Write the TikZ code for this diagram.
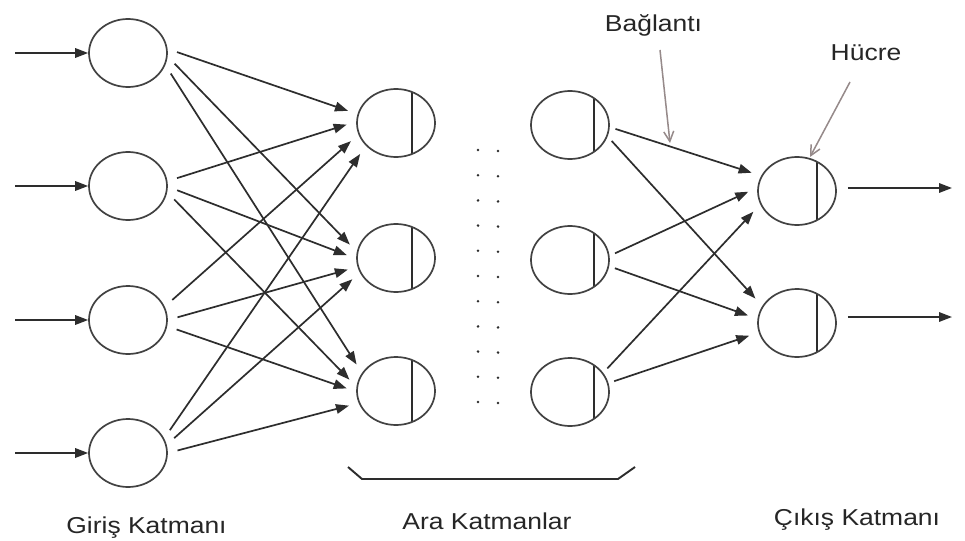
\documentclass[tikz,border=0pt]{standalone}
\usepackage{graphicx}
\usepackage{fontspec}
\setmainfont{Liberation Sans}
\usetikzlibrary{shapes.geometric,arrows.meta}
\definecolor{ink}{RGB}{45,45,45}
\definecolor{pointer}{RGB}{150,138,138}
\newcommand{\lbltext}[1]{\scalebox{1.15}[1]{\fontsize{23pt}{27pt}\selectfont #1}}
\begin{document}
\begin{tikzpicture}[x=1pt,y=-1pt,
  neuron/.style={ellipse, draw=ink!90, line width=1.7pt, minimum width=78pt, minimum height=68pt, inner sep=0pt},
  cell/.style={neuron, path picture={\draw[line width=1.7pt, ink] ([xshift=#1]path picture bounding box.south) -- ([xshift=#1]path picture bounding box.north);}},
  conn/.style={draw=ink, line width=1.7pt, -{Triangle[length=13pt,width=9.5pt]}, shorten >=10pt, shorten <=10pt},
  iarrow/.style={draw=ink, line width=1.7pt, -{Triangle[length=13pt,width=9.5pt]}},
  ptr/.style={draw=pointer, line width=1.5pt, -{Straight Barb[length=10pt,width=10pt]}},
  lbl/.style={inner sep=0pt, anchor=base, text=black!85}
]
\fill[white] (0,0) rectangle (965,540);
\useasboundingbox (0,0) rectangle (965,540);

% input layer
\node[neuron] (i1) at (128,53) {};
\node[neuron] (i2) at (128,186) {};
\node[neuron] (i3) at (128,320) {};
\node[neuron] (i4) at (128,453) {};
% first hidden layer
\node[cell=16pt] (h1) at (396,123) {};
\node[cell=16pt] (h2) at (396,258) {};
\node[cell=16pt] (h3) at (396,391) {};
% last hidden layer
\node[cell=24pt] (g1) at (570,125) {};
\node[cell=24pt] (g2) at (570,260) {};
\node[cell=24pt] (g3) at (570,392) {};
% output layer
\node[cell=20pt] (o1) at (797,191) {};
\node[cell=20pt] (o2) at (797,323) {};

% input arrows
\coordinate (a1) at (15,53);
\coordinate (a2) at (15,186);
\coordinate (a3) at (15,320);
\coordinate (a4) at (15,453);
\foreach \k in {1,...,4} \draw[iarrow] (a\k) -- (i\k.west);

% output arrows
\coordinate (e1) at (952,188);
\coordinate (e2) at (952,317);
\draw[iarrow, shorten <=11pt] (o1.east |- e1) -- (e1);
\draw[iarrow, shorten <=11pt] (o2.east |- e2) -- (e2);

% input -> first hidden
\foreach \s/\t/\a/\b in {
  i1/h1/6/167, i2/h1/7/178, i3/h1/20/197, i4/h1/22/217,
  i1/h2/-5/171, i2/h2/-1/181, i3/h2/0/193, i4/h2/12/202,
  i1/h3/-18/152, i2/h3/-9/174, i3/h3/-9/181, i4/h3/0/198}
  \draw[conn] (\s.\a) -- (\t.\b);

% last hidden -> output
\foreach \s/\t/\a/\b in {
  g1/o1/-3/157, g2/o1/6/175, g3/o1/30/200,
  g1/o2/-17/154, g2/o2/-9/174, g3/o2/13/194}
  \draw[conn, shorten <=6pt] (\s.\a) -- (\t.\b);

% dots between hidden layers
\foreach \k in {0,...,10} {
  \fill[ink] (478,150+25.2*\k) circle (1.4pt);
  \fill[ink] (498,151+25.2*\k) circle (1.4pt);
}

% brace under hidden layers
\coordinate (b1) at (348,467);
\coordinate (b2) at (362,479);
\coordinate (b3) at (618,479);
\coordinate (b4) at (635,467);
\draw[ink, line width=1.9pt, line join=round] (b1) -- (b2) -- (b3) -- (b4);

% labels
\node[lbl] (lin) at (146.5,533) {\lbltext{Giriş Katmanı}};
\node[lbl] (lmid) at (487,529) {\lbltext{Ara Katmanlar}};
\node[lbl] (lout) at (857,525) {\lbltext{Çıkış Katmanı}};
\node[lbl] (lcon) at (653.5,32) {\lbltext{Bağlantı}};
\node[lbl] (lcell) at (866,61) {\lbltext{Hücre}};

% pointers
\coordinate (p1s) at (660,50);
\coordinate (p1e) at (670,143);
\coordinate (p2s) at (850,82);
\coordinate (p2e) at (810,157);
\draw[ptr] (p1s) -- (p1e);
\draw[ptr] (p2s) -- (p2e);
\end{tikzpicture}
\end{document}
